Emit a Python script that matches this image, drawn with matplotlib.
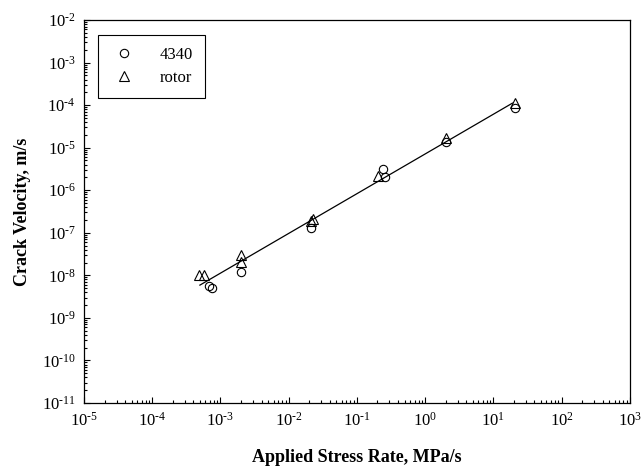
import numpy as np
import matplotlib
matplotlib.use("Agg")
import matplotlib.pyplot as plt
from matplotlib.ticker import LogLocator, NullFormatter, FuncFormatter

plt.rcParams['font.family'] = ['Liberation Serif', 'DejaVu Serif']
plt.rcParams['mathtext.fontset'] = 'custom'
plt.rcParams['mathtext.rm'] = 'Liberation Serif'
plt.rcParams['mathtext.it'] = 'Liberation Serif:italic'
plt.rcParams['mathtext.bf'] = 'Liberation Serif:bold'

# data
rate_4340 = [6.9e-4, 7.4e-4, 2.0e-3, 2.1e-2, 0.24, 0.26, 2.0, 20.5]
vel_4340 = [5.6e-9, 5.0e-9, 1.2e-8, 1.3e-7, 3.1e-6, 2.0e-6, 1.38e-5, 8.6e-5]
rate_rotor = [4.8e-4, 5.7e-4, 2.0e-3, 2.0e-3, 2.1e-2, 2.3e-2, 0.205, 2.0, 20.5]
vel_rotor = [1.0e-8, 1.0e-8, 3.0e-8, 2.1e-8, 1.9e-7, 2.1e-7, 2.16e-6, 1.66e-5, 1.1e-4]

# regression line through all points (log-log)
lx = np.log10(rate_4340 + rate_rotor)
ly = np.log10(vel_4340 + vel_rotor)
b, a = np.polyfit(lx, ly, 1)
xfit = np.array([5.0e-4, 19.0])
yfit = 10 ** (a + b * np.log10(xfit))


def pow10(v, pos):
    e = int(round(np.log10(v)))
    if e < 0:
        return r"$10^{\text{-%d}}$" % (-e)
    return r"$10^{%d}$" % e


fig = plt.figure(figsize=(6.44, 4.70), dpi=100)
ax = fig.add_axes([0.1304, 0.1426, 0.8476, 0.8148])

ax.plot(xfit, yfit, color="k", linewidth=0.9)
ax.plot(rate_4340, vel_4340, linestyle="none", marker="o", markersize=6,
        markerfacecolor="none", markeredgecolor="k", markeredgewidth=0.8, label="4340")
ax.plot(rate_rotor, vel_rotor, linestyle="none", marker="^", markersize=6.5,
        markerfacecolor="none", markeredgecolor="k", markeredgewidth=0.8, label="rotor")

ax.set_xscale("log")
ax.set_yscale("log")
ax.set_xlim(1e-5, 1e3)
ax.set_ylim(1e-11, 1e-2)

ax.xaxis.set_major_locator(LogLocator(base=10, numticks=20))
ax.yaxis.set_major_locator(LogLocator(base=10, numticks=20))
ax.xaxis.set_minor_locator(LogLocator(base=10, subs=np.arange(2, 10), numticks=20))
ax.yaxis.set_minor_locator(LogLocator(base=10, subs=np.arange(2, 10), numticks=20))
ax.xaxis.set_major_formatter(FuncFormatter(pow10))
ax.yaxis.set_major_formatter(FuncFormatter(pow10))
ax.xaxis.set_minor_formatter(NullFormatter())
ax.yaxis.set_minor_formatter(NullFormatter())

ax.tick_params(which="both", direction="in", top=False, right=False, labelsize=12, width=0.8)
ax.tick_params(which="major", length=4.5, pad=6)
ax.tick_params(which="minor", length=2.2)
for s in ax.spines.values():
    s.set_linewidth(0.9)

ax.set_xlabel("Applied Stress Rate, MPa/s", fontsize=13, fontweight="bold", labelpad=14)
ax.set_ylabel("Crack Velocity, m/s", fontsize=13, fontweight="bold", labelpad=8)

leg = ax.legend(loc="upper left", bbox_to_anchor=(0.0256, 0.961), borderaxespad=0,
                fontsize=12, fancybox=False, framealpha=1, edgecolor="k",
                borderpad=0.7, handletextpad=1.3, labelspacing=0.45, handlelength=1.7)
leg.get_frame().set_linewidth(0.8)

fig.savefig("out.png", dpi=100)
